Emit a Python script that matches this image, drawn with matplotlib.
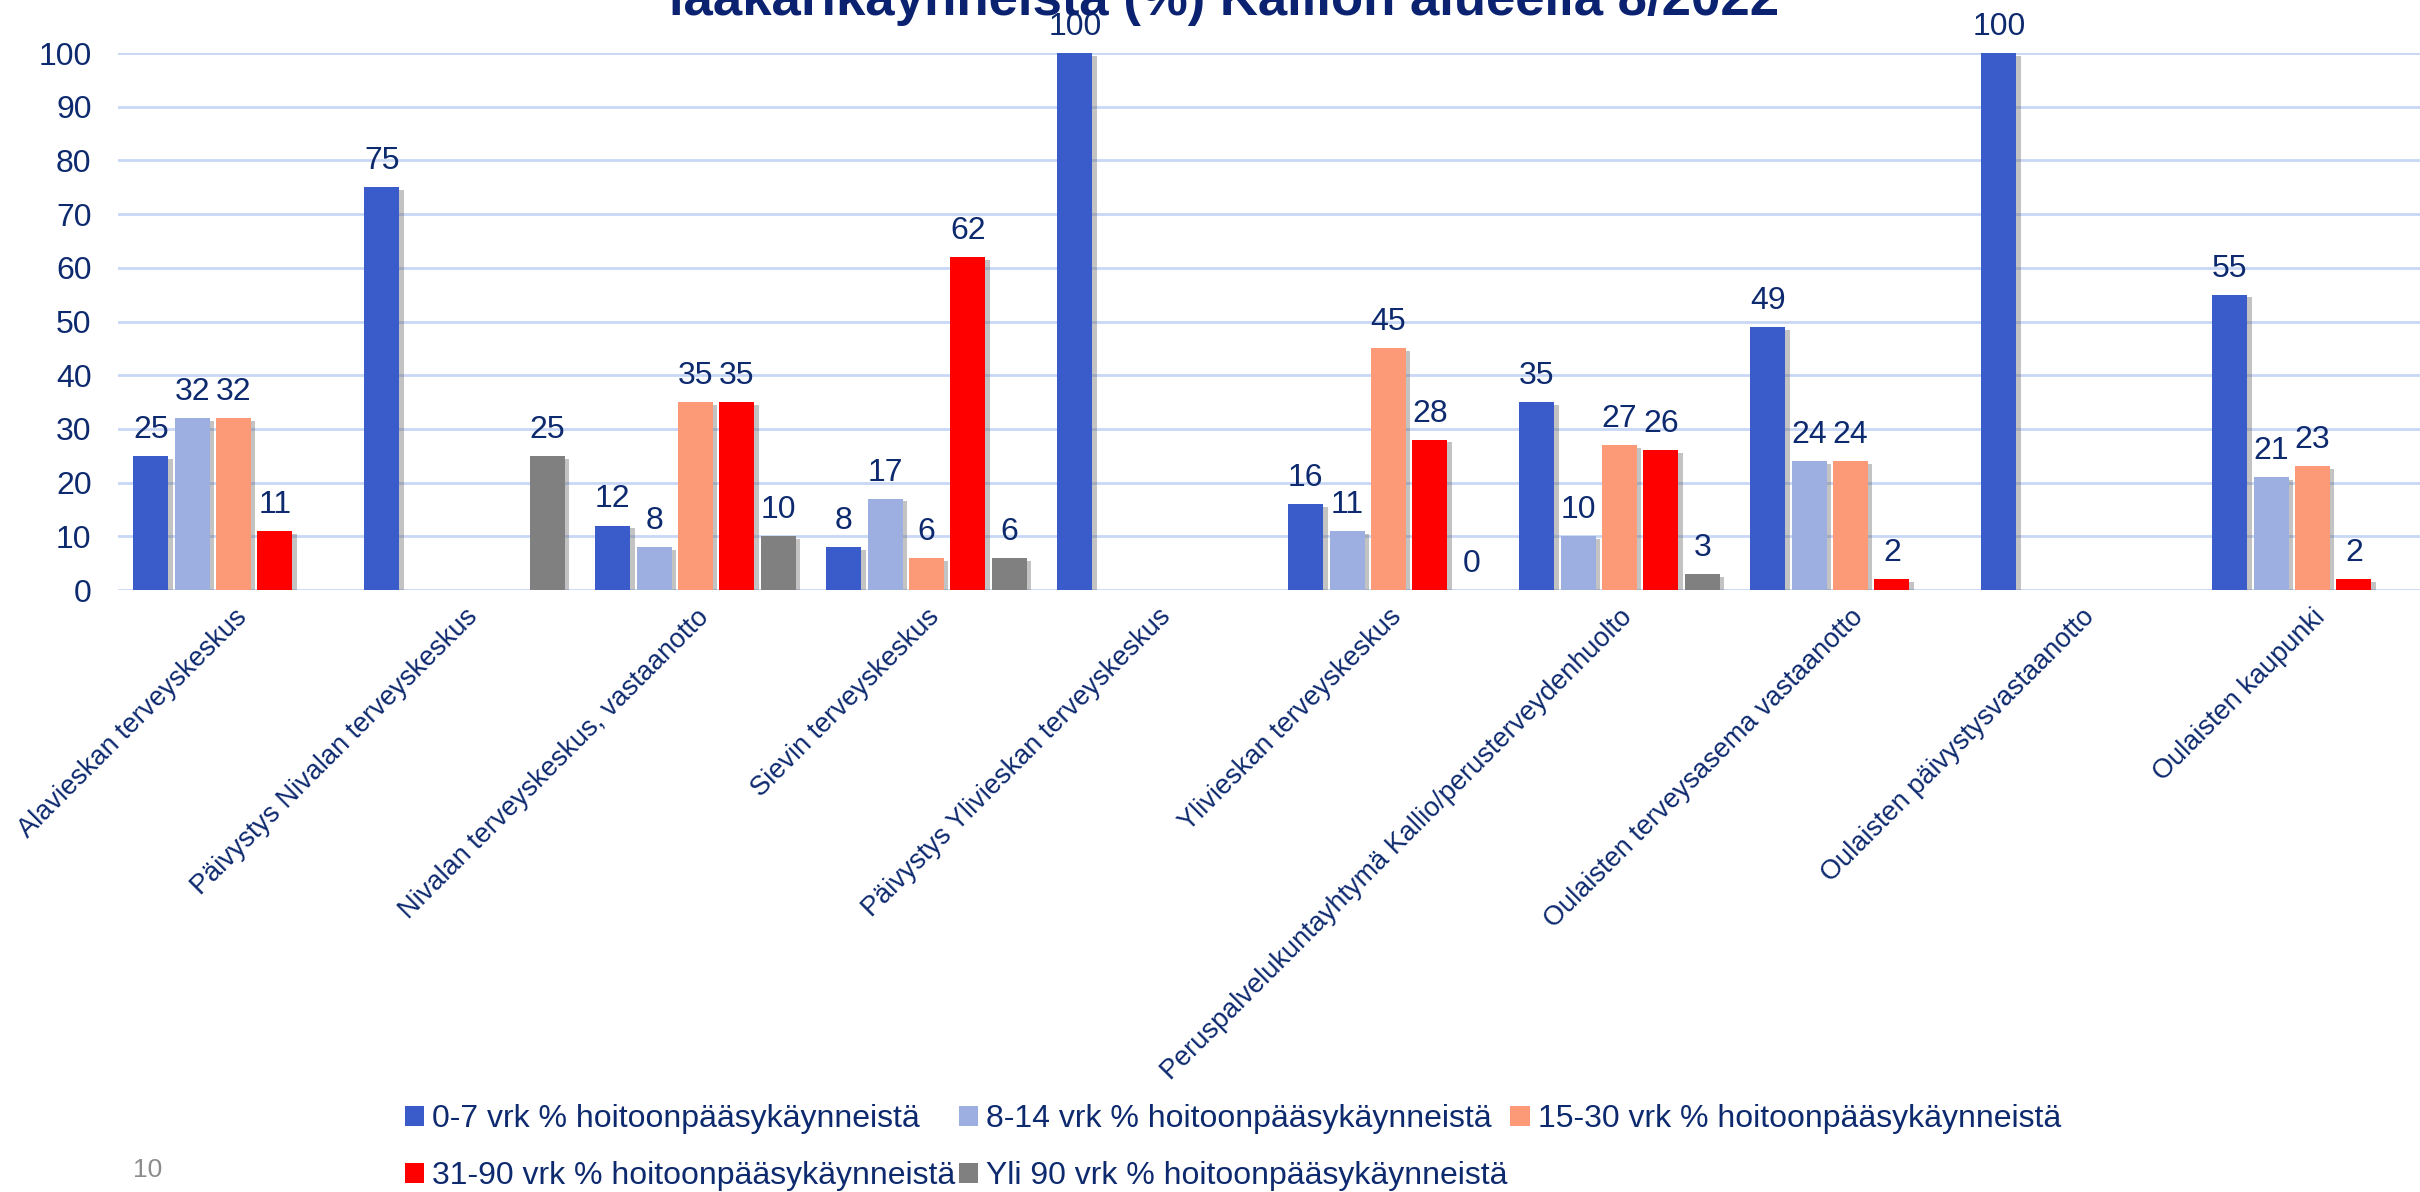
import numpy as np
import matplotlib.pyplot as plt
import matplotlib.patheffects as pe
from matplotlib.patches import Patch

plt.rcParams['font.family'] = ['Liberation Sans', 'DejaVu Sans']

nan = np.nan

categories = [
    "Alavieskan terveyskeskus",
    "Päivystys Nivalan terveyskeskus",
    "Nivalan terveyskeskus, vastaanotto",
    "Sievin terveyskeskus",
    "Päivystys Ylivieskan terveyskeskus",
    "Ylivieskan terveyskeskus",
    "Peruspalvelukuntayhtymä Kallio/perusterveydenhuolto",
    "Oulaisten terveysasema vastaanotto",
    "Oulaisten päivystysvastaanotto",
    "Oulaisten kaupunki",
]

# % of visits per waiting time class (nan = no data)
vrk_0_7 = [25, 75, 12, 8, 100, 16, 35, 49, 100, 55]
vrk_8_14 = [32, nan, 8, 17, nan, 11, 10, 24, nan, 21]
vrk_15_30 = [32, nan, 35, 6, nan, 45, 27, 24, nan, 23]
vrk_31_90 = [11, nan, 35, 62, nan, 28, 26, 2, nan, 2]
vrk_yli_90 = [nan, 25, 10, 6, nan, 0, 3, nan, nan, nan]

series_names = [
    "0-7 vrk % hoitoonpääsykäynneistä",
    "8-14 vrk % hoitoonpääsykäynneistä",
    "15-30 vrk % hoitoonpääsykäynneistä",
    "31-90 vrk % hoitoonpääsykäynneistä",
    "Yli 90 vrk % hoitoonpääsykäynneistä",
]
series = [vrk_0_7, vrk_8_14, vrk_15_30, vrk_31_90, vrk_yli_90]
colors = ["#3A5CCB", "#9DAEE0", "#FC9A78", "#FF0000", "#808080"]

title = "lääkärikäynneistä (%) Kallion alueella 8/2022"
navy = "#0E2A6F"

fig = plt.figure(figsize=(24.2, 11.92), dpi=100)
ax = fig.add_axes([118 / 2420, 602 / 1192, 2310 / 2420, 537 / 1192])

x = np.arange(len(categories))
slot = 0.179
width = 0.152
shadow = [pe.SimplePatchShadow(offset=(3, -2), shadow_rgbFace="#555555", alpha=0.35), pe.Normal()]

for j, (vals, col) in enumerate(zip(series, colors)):
    vals = np.array(vals, dtype=float)
    xs = x + (j - 2) * slot
    bars = ax.bar(xs, np.nan_to_num(vals), width=width, color=col, zorder=3)
    for b, v in zip(bars, vals):
        if np.isnan(v):
            b.set_visible(False)
        else:
            b.set_path_effects(shadow)
            ax.annotate(f"{v:.0f}", xy=(b.get_x() + width / 2, v), xytext=(0, 8),
                        textcoords="offset points", ha="center", va="bottom",
                        fontsize=23, color=navy, zorder=4)

ax.set_xlim(-0.5, len(categories) - 0.5)
ax.set_ylim(0, 100)
ax.set_yticks(np.arange(0, 101, 10))
ax.tick_params(axis="y", length=0, pad=19, labelsize=23, labelcolor=navy)
ax.tick_params(axis="x", length=0, pad=10)
ax.set_xticks(x)
ax.set_xticklabels(categories, rotation=45, ha="right", va="top",
                   rotation_mode="anchor", fontsize=19.5, color=navy)
ax.grid(axis="y", color="#C9D7F7", linewidth=2, zorder=0)
for s in ax.spines.values():
    s.set_visible(False)
ax.set_axisbelow(True)

fig.text(0.506, 1 - 15 / 1192, title, ha="center", va="baseline",
         fontsize=38, fontweight="bold", color="#0B2270")

handles = [Patch(facecolor=c) for c in colors]
order = [0, 3, 1, 4, 2]
leg = fig.legend([handles[i] for i in order], [series_names[i] for i in order],
                 ncol=3, loc="upper left", bbox_to_anchor=(389 / 2420, 1 - 1088 / 1192),
                 frameon=False, fontsize=23, handlelength=0.6, handleheight=0.6,
                 handletextpad=0.25, columnspacing=0.1, labelspacing=0.85,
                 labelcolor=navy, borderpad=0)

fig.text(133 / 2420, 1 - 1177 / 1192, "10", fontsize=19, color="#8C8C8C",
         ha="left", va="baseline")

fig.savefig("out.png", dpi=100)
